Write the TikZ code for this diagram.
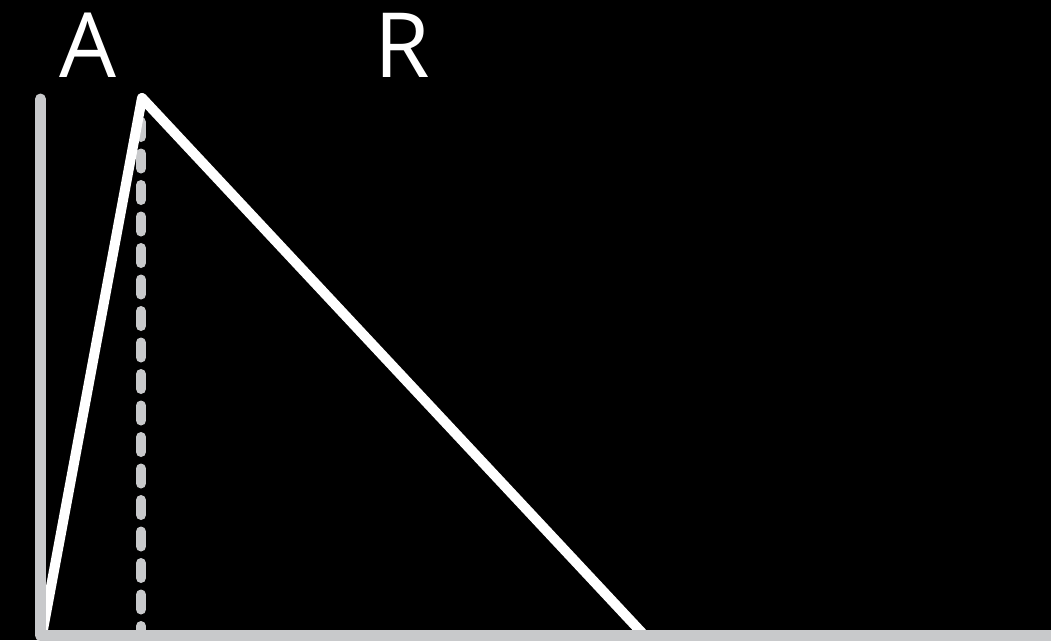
\documentclass[tikz,border=0pt]{standalone}
\usepackage{fontspec}
\setmainfont{Open Sans}
\definecolor{axisgray}{RGB}{200,201,203}

\begin{document}
\begin{tikzpicture}[x=1pt,y=-1pt,axis/.style={axisgray,line width=11pt,line cap=round,line join=round},pulse/.style={white,line width=10pt,line join=round},guide/.style={axisgray,line width=10pt,line cap=round,dash pattern=on 15pt off 16.5pt},label/.style={white,font=\fontsize{90}{108}\selectfont,inner sep=0pt,anchor=base}]
\fill[black] (0,0) rectangle (1051,640); \useasboundingbox (0,0) rectangle (1051,640); \clip (0,0) rectangle (1051,640);
\coordinate (O) at (40.5,635.5); \coordinate (T) at (40.5,99); \coordinate (E) at (1070,635.5);
\coordinate (S) at (42,635); \coordinate (P) at (142,98); \coordinate (F) at (644,635);
\coordinate (G1) at (141,122); \coordinate (G2) at (141,640);
\draw[guide] (G1)--(G2);
\draw[pulse] (S)--(P)--(F);
\draw[axis] (T)--(O)--(E);
\node[label] (a) at (88,77) {A}; \node[label] (r) at (402,77) {R};
\end{tikzpicture}
\end{document}
